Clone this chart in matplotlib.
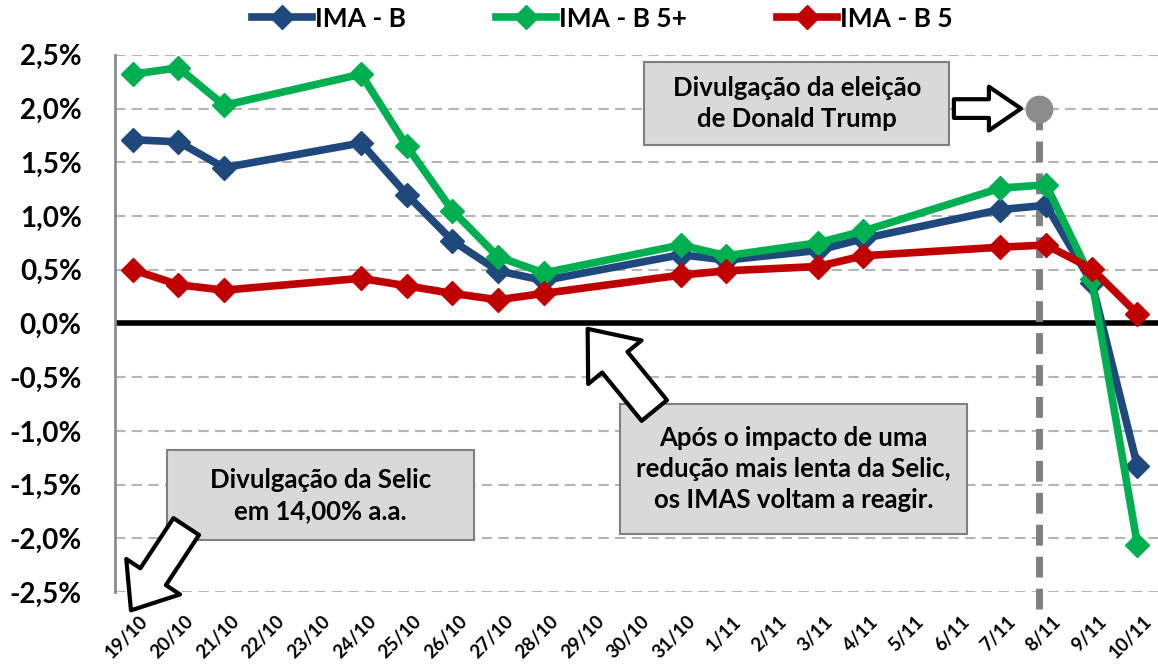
import numpy as np
import matplotlib
matplotlib.use('Agg')
import matplotlib.pyplot as plt
import matplotlib.transforms as mtransforms
from matplotlib.patches import FancyArrowPatch, Rectangle
from matplotlib.ticker import FuncFormatter

plt.rcParams['font.family'] = ['Lato', 'DejaVu Sans']
plt.rcParams['font.weight'] = 'bold'

# eixo de datas (19/10 a 10/11), apenas dias uteis com dados
date_labels = ['19/10', '20/10', '21/10', '22/10', '23/10', '24/10', '25/10', '26/10',
               '27/10', '28/10', '29/10', '30/10', '31/10', '1/11', '2/11', '3/11',
               '4/11', '5/11', '6/11', '7/11', '8/11', '9/11', '10/11']
data_dates = ['19/10', '20/10', '21/10', '24/10', '25/10', '26/10', '27/10', '28/10',
              '31/10', '1/11', '3/11', '4/11', '7/11', '8/11', '9/11', '10/11']

ima_b = [1.71, 1.69, 1.45, 1.68, 1.20, 0.77, 0.49, 0.40,
         0.64, 0.59, 0.68, 0.79, 1.06, 1.10, 0.38, -1.33]
ima_b5p = [2.32, 2.38, 2.03, 2.32, 1.65, 1.05, 0.62, 0.47,
           0.73, 0.63, 0.75, 0.86, 1.26, 1.29, 0.41, -2.06]
ima_b5 = [0.50, 0.36, 0.31, 0.42, 0.35, 0.28, 0.22, 0.28,
          0.45, 0.49, 0.53, 0.63, 0.71, 0.73, 0.51, 0.09]

y_ticks = [2.5, 2.0, 1.5, 1.0, 0.5, 0.0, -0.5, -1.0, -1.5, -2.0, -2.5]

trump_x = 19.85
trump_y = 2.0

x = np.array([date_labels.index(d) for d in data_dates])

fig = plt.figure(figsize=(11.58, 6.69), dpi=100)
ax = fig.add_axes([0.0993, 0.115, 0.9007, 0.803])

ax.set_xlim(-0.39, 22.45)
ax.set_ylim(-2.5, 2.5)

for yt in y_ticks:
    if yt != 0:
        ax.axhline(yt, color='#b5b5b5', lw=1.5, ls=(0, (5, 3)), zorder=0)
ax.axhline(0, color='black', lw=4, zorder=1)

# linha vertical da eleicao
ax.plot([trump_x, trump_x], [trump_y, -2.67], color='#808080', lw=5,
        ls=(0, (3, 1.6)), zorder=2, clip_on=False)
ax.plot([trump_x], [trump_y], 'o', color='#8c8c8c', ms=19, zorder=6)

ax.plot(x, ima_b, color='#1f497d', lw=5.5, marker='D', ms=12, label='IMA - B', zorder=3)
ax.plot(x, ima_b5p, color='#00b050', lw=5.5, marker='D', ms=12, label='IMA - B 5+', zorder=4)
ax.plot(x, ima_b5, color='#c00000', lw=5.5, marker='D', ms=12, label='IMA - B 5', zorder=5)

ax.set_yticks(y_ticks)
ax.yaxis.set_major_formatter(FuncFormatter(lambda v, p: ('%.1f%%' % v).replace('.', ',')))
ax.set_xticks(range(len(date_labels)))
ax.set_xticklabels(date_labels, rotation=45, ha='right', va='top', rotation_mode='anchor')
ax.tick_params(axis='y', length=0, pad=24, labelsize=20)
ax.tick_params(axis='x', length=0, pad=15, labelsize=13.5)
shift = mtransforms.ScaledTranslation(6 / 100, 0, fig.dpi_scale_trans)
for lab in ax.get_xticklabels():
    lab.set_transform(lab.get_transform() + shift)

for s in ['top', 'right', 'bottom']:
    ax.spines[s].set_visible(False)
ax.spines['left'].set_color('#8c8c8c')
ax.spines['left'].set_linewidth(2)

# caixas de texto: (x0, x1, y0, y1, texto)
boxes = [
    (11.2, 17.88, 1.66, 2.43, 'Divulgação da eleição\nde Donald Trump'),
    (10.66, 18.27, -1.955, -0.745, 'Após o impacto de uma\nredução mais lenta da Selic,\nos IMAS voltam a reagir.'),
    (0.744, 7.48, -2.02, -1.18, 'Divulgação da Selic\nem 14,00% a.a.'),
]
for (x0, x1, y0, y1, txt) in boxes:
    ax.add_patch(Rectangle((x0, y0), x1 - x0, y1 - y0, fc='#d9d9d9', ec='#7f7f7f',
                           lw=1.5, zorder=7))
    ax.text((x0 + x1) / 2, (y0 + y1) / 2, txt, ha='center', va='center',
            fontsize=18.5, linespacing=1.35, zorder=7.5)

arrows = [
    ((17.98, 2.0), (19.45, 2.0), 'simple,head_length=0.55,head_width=0.75,tail_width=0.32', 42),
    ((11.42, -0.81), (9.96, -0.05), 'simple,head_length=0.5,head_width=0.8,tail_width=0.38', 62),
    ((1.17, -1.89), (-0.04, -2.67), 'simple,head_length=0.5,head_width=0.8,tail_width=0.38', 58),
]
for (p0, p1, st, ms) in arrows:
    a = FancyArrowPatch(p0, p1, arrowstyle=st, mutation_scale=ms, fc='white', ec='black',
                        lw=3, zorder=8, clip_on=False, shrinkA=0, shrinkB=0)
    ax.add_patch(a)

fig.legend(loc='center', bbox_to_anchor=(0.52, 0.972), ncol=3, frameon=False,
           fontsize=19, handlelength=2.3, columnspacing=3.4, handletextpad=0.1)

fig.savefig('out.png', dpi=100)
